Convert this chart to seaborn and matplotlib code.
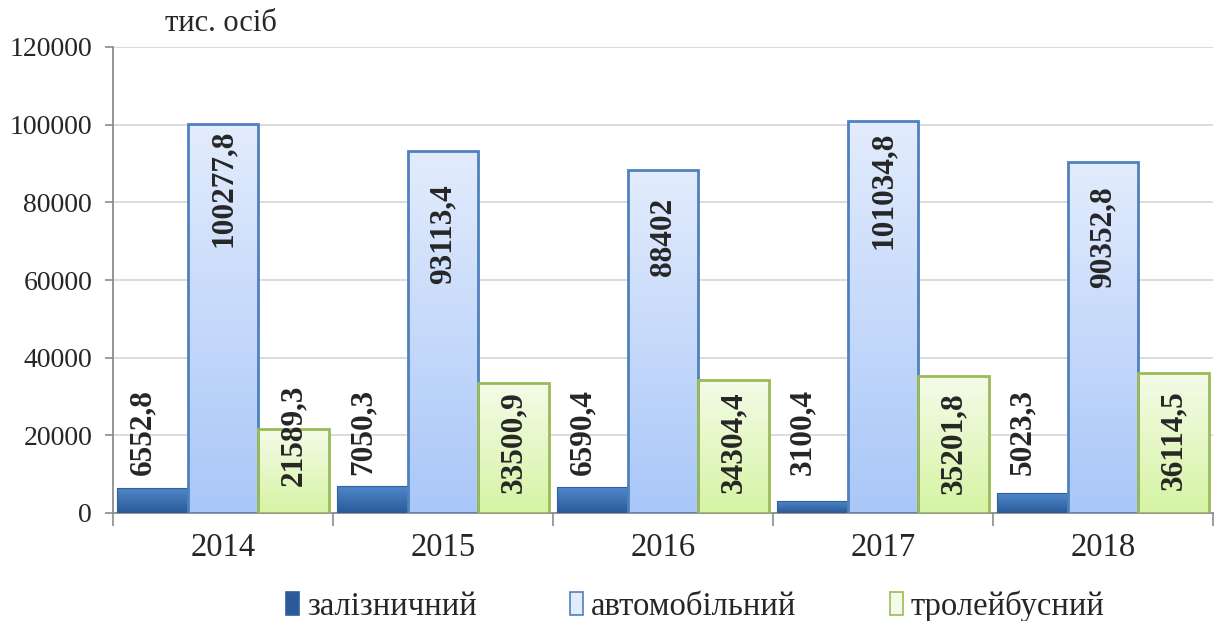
import numpy as np
import pandas as pd
import seaborn as sns
import matplotlib
matplotlib.use('Agg')
import matplotlib.pyplot as plt
from matplotlib.colors import LinearSegmentedColormap
from matplotlib.patches import Patch

# дані: пасажироперевезення, тис. осіб
years = ['2014', '2015', '2016', '2017', '2018']
series = ['залізничний', 'автомобільний', 'тролейбусний']
rail = [6552.8, 7050.3, 6590.4, 3100.4, 5023.3]
auto = [100277.8, 93113.4, 88402, 101034.8, 90352.8]
troll = [21589.3, 33500.9, 34304.4, 35201.8, 36114.5]

# висота центру підпису (як у вихідній діаграмі)
lbl_rail = [20900, 20900, 20900, 20900, 20900]
lbl_auto = [83700, 71800, 71100, 83200, 70900]
lbl_troll = [20100, 18200, 18300, 18000, 18800]

df = pd.DataFrame({
    'year': years * 3,
    'kind': [s for s in series for _ in years],
    'value': rail + auto + troll,
})

# кольори: (верх, низ, контур)
styles = {
    'залізничний': ('#5089CC', '#2A5A98', '#2F5F9E'),
    'автомобільний': ('#E3ECFD', '#A9C7F8', '#4F81BD'),
    'тролейбусний': ('#F4FBE8', '#D6F4A4', '#9BBB59'),
}

sns.set_style('white')
plt.rcParams['font.family'] = ['Liberation Serif', 'DejaVu Serif']

fig = plt.figure(figsize=(12.22, 6.21), dpi=100)
ax = fig.add_axes([113 / 1222, 1 - 513 / 621, 1100 / 1222, 466 / 621])

sns.barplot(data=df, x='year', y='value', hue='kind', hue_order=series,
            order=years, width=0.96, gap=0, legend=False, ax=ax,
            palette=[styles[s][0] for s in series], saturation=1)

# градієнтна заливка стовпчиків
bars = [p for p in ax.patches]
for i, p in enumerate(bars):
    top, bot, edge = styles[series[i // len(years)]]
    x0, y0, w, h = p.get_x(), p.get_y(), p.get_width(), p.get_height()
    cmap = LinearSegmentedColormap.from_list('g', [bot, top])
    im = ax.imshow(np.linspace(0, 1, 128).reshape(-1, 1), extent=[x0, x0 + w, y0, y0 + h],
                   origin='lower', cmap=cmap, aspect='auto', zorder=2.9)
    im.set_clip_path(p)
    p.set_facecolor('none')
    p.set_edgecolor(edge)
    p.set_linewidth(2.0 if i >= len(years) else 0.8)
    p.set_zorder(3)


def fmt(v):
    s = '{:.1f}'.format(v).rstrip('0').rstrip('.')
    return s.replace('.', ',')


# підписи значень
for k, (vals, ys, dx) in enumerate([(rail, lbl_rail, -0.045), (auto, lbl_auto, 0.0), (troll, lbl_troll, 0.0)]):
    for j, v in enumerate(vals):
        p = bars[k * len(years) + j]
        ax.text(p.get_x() + p.get_width() / 2 + dx, ys[j], fmt(v), rotation=90,
                ha='center', va='center', fontsize=22.5, fontweight='bold', zorder=5)

ax.set_xlim(-0.5, 4.5)
ax.set_ylim(0, 120000)
ax.set_yticks(np.arange(0, 120001, 20000))
ax.set_xlabel('')
ax.set_ylabel('')

ax.set_axisbelow(True)
ax.yaxis.grid(True, color='#D9D9D9', linewidth=1.3)
ax.xaxis.grid(False)
for s in ['top', 'right']:
    ax.spines[s].set_visible(False)
for s in ['left', 'bottom']:
    ax.spines[s].set_color('#8C8C8C')
    ax.spines[s].set_linewidth(1.3)

ax.tick_params(axis='y', length=6, width=1.2, color='#8C8C8C', pad=9, labelsize=20, left=True)
ax.tick_params(axis='x', which='major', length=0, pad=14, labelsize=23.5)
ax.set_xticks(np.arange(-0.5, 5, 1), minor=True)
ax.tick_params(axis='x', which='minor', length=9, width=1.2, color='#8C8C8C', bottom=True)

fig.text(165 / 1222, 1 - 31 / 621, 'тис. осіб', fontsize=22, va='baseline', ha='left')

handles = [Patch(facecolor=styles[s][1] if s == series[0] else styles[s][0],
                 edgecolor=styles[s][2], linewidth=1.2) for s in series]
fig.legend(handles, series, loc='center', bbox_to_anchor=(0.569, 0.024), ncol=3,
           frameon=False, fontsize=23.5, handlelength=0.4, handleheight=0.75,
           handletextpad=0.25, columnspacing=2.85)

fig.savefig('out.png', dpi=100)
plt.close(fig)
